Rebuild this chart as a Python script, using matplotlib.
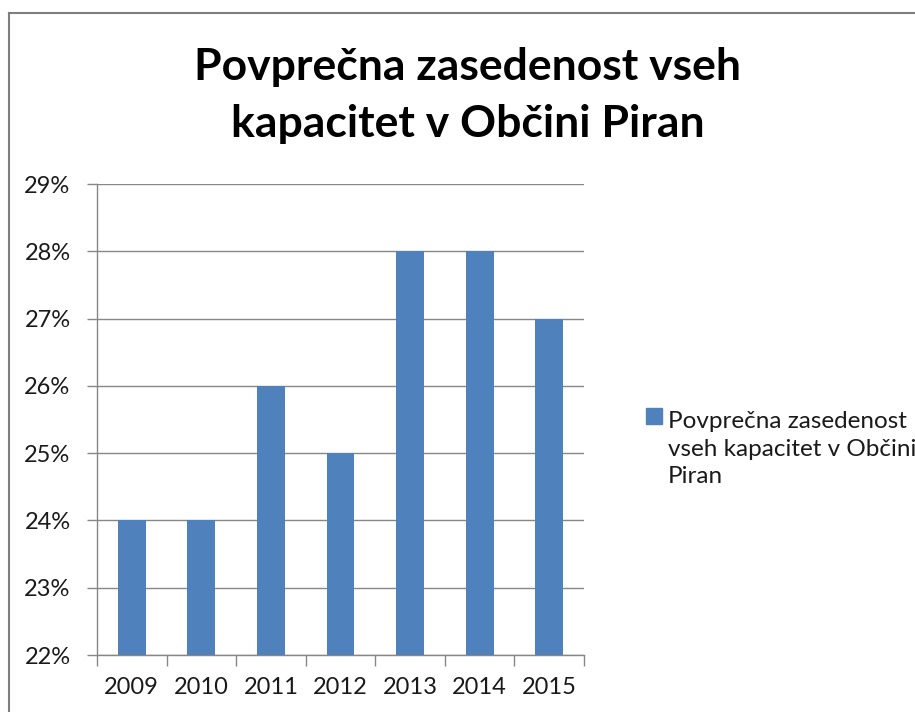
import matplotlib
matplotlib.use("Agg")
import matplotlib.pyplot as plt
from matplotlib.patches import Rectangle
from matplotlib.ticker import FuncFormatter

years = ["2009", "2010", "2011", "2012", "2013", "2014", "2015"]
values = [24, 24, 26, 25, 28, 28, 27]
yticks = [22, 23, 24, 25, 26, 27, 28, 29]
title_lines = ["Povprečna zasedenost vseh", "kapacitet v Občini Piran"]
series_label = "Povprečna zasedenost\nvseh kapacitet v Občini\nPiran"

W, H = 915, 712
fig = plt.figure(figsize=(W / 100, H / 100), dpi=100)
fig.patch.set_facecolor("white")
plt.rcParams['font.family'] = ['Lato', 'DejaVu Sans']

bar_color = "#4F81BD"
grid_color = "#878787"
text_color = "#1a1a1a"
fs = 17

ax = fig.add_axes([97 / W, 1 - 655 / H, (584 - 97) / W, (655 - 184) / H])
x = list(range(len(years)))
ax.bar(x, [v - 22 for v in values], bottom=22, width=0.4, color=bar_color, zorder=3)
ax.set_xlim(-0.5, len(years) - 0.5)
ax.set_ylim(22, 29)
ax.set_yticks(yticks)
ax.yaxis.set_major_formatter(FuncFormatter(lambda v, p: f"{int(round(v))}%"))
ax.grid(axis="y", color=grid_color, linewidth=1, zorder=0)
ax.set_xticks(x)
ax.set_xticklabels(years)
ax.set_xticks([i - 0.5 for i in range(len(years) + 1)], minor=True)
ax.tick_params(axis="x", which="major", length=0, pad=16, labelsize=fs, colors=text_color)
ax.tick_params(axis="x", which="minor", length=8, width=1, color=grid_color, direction="out")
ax.tick_params(axis="y", length=7, width=1, color=grid_color, pad=12, labelsize=fs, labelcolor=text_color)
for s in ["top", "right"]:
    ax.spines[s].set_visible(False)
for s in ["left", "bottom"]:
    ax.spines[s].set_color(grid_color)
    ax.spines[s].set_linewidth(1)
ax.set_axisbelow(True)

# title (two centred lines)
for line, yb in zip(title_lines, [80, 137]):
    fig.text(468 / W, 1 - yb / H, line, ha="center", va="baseline", fontsize=32,
             fontweight="bold", color="black")

# legend
fig.patches.append(Rectangle((646 / W, 1 - 424 / H), 16 / W, 16 / H,
                             transform=fig.transFigure, color=bar_color))
fig.text(668 / W, 1 - 449 / H, series_label, ha="left", va="center",
         fontsize=17.5, linespacing=1.4, color=text_color)

# chart border (left & top visible)
fig.add_artist(plt.Line2D([9 / W, 9 / W], [0, 1 - 13 / H], transform=fig.transFigure,
                          color="#7f7f7f", linewidth=1.5))
fig.add_artist(plt.Line2D([9 / W, 1], [1 - 13 / H, 1 - 13 / H], transform=fig.transFigure,
                          color="#7f7f7f", linewidth=1.5))

fig.savefig("out.png", dpi=100)
